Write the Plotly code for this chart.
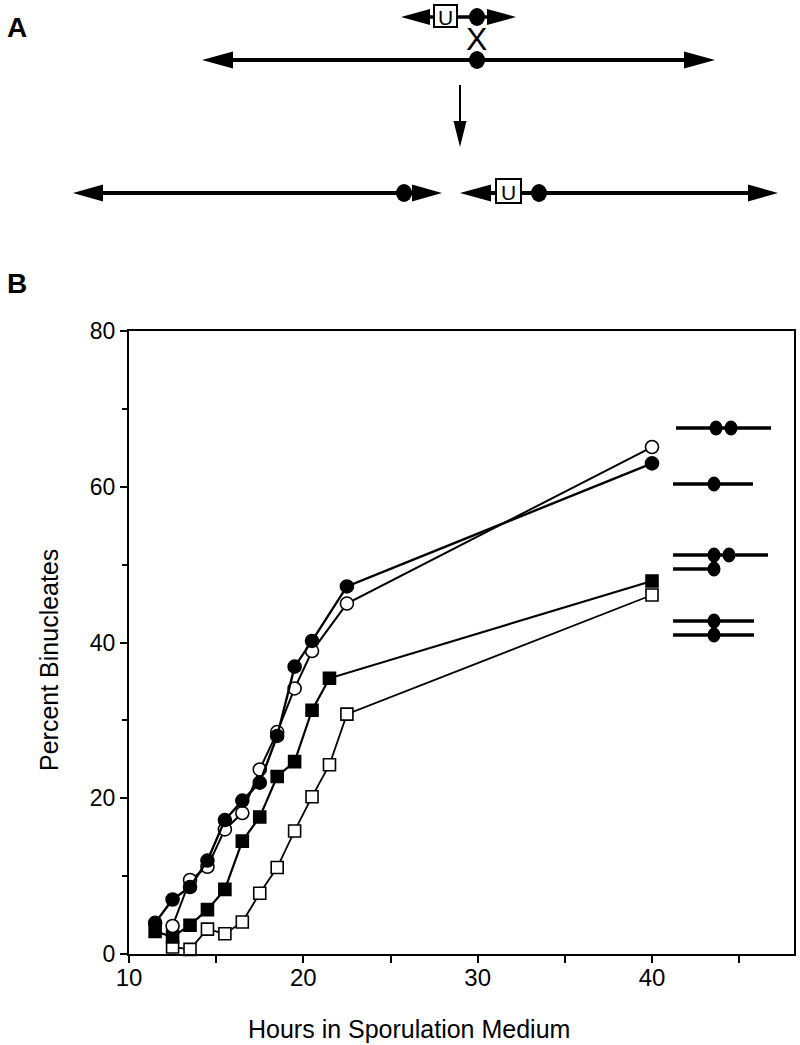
import plotly.graph_objects as go

# ---------------- data (panel B) ----------------
hours_filled_circle = [11.5, 12.5, 13.5, 14.5, 15.5, 16.5, 17.5, 18.5, 19.5, 20.5, 22.5, 40]
pct_filled_circle = [4.0, 7.0, 8.6, 12.0, 17.2, 19.7, 22.0, 28.0, 36.9, 40.2, 47.2, 63.0]

hours_open_circle = [12.5, 13.5, 14.5, 15.5, 16.5, 17.5, 18.5, 19.5, 20.5, 22.5, 40]
pct_open_circle = [3.6, 9.5, 11.2, 16.0, 18.1, 23.7, 28.5, 34.1, 38.9, 45.0, 65.1]

hours_filled_square = [11.5, 12.5, 13.5, 14.5, 15.5, 16.5, 17.5, 18.5, 19.5, 20.5, 21.5, 40]
pct_filled_square = [2.9, 2.2, 3.7, 5.7, 8.3, 14.5, 17.6, 22.8, 24.7, 31.3, 35.4, 47.9]

hours_open_square = [12.5, 13.5, 14.5, 15.5, 16.5, 17.5, 18.5, 19.5, 20.5, 21.5, 22.5, 40]
pct_open_square = [0.9, 0.6, 3.2, 2.6, 4.1, 7.8, 11.1, 15.8, 20.2, 24.3, 30.8, 46.1]

x_ticks = [10, 20, 30, 40]
y_ticks = [0, 20, 40, 60, 80]

FONT = "Liberation Sans, Arial, Helvetica, sans-serif"
W, H = 800, 1045
# plot area in pixels
PX0, PX1, PY0, PY1 = 129, 794, 331, 954

fig = go.Figure()

def add_series(x, y, symbol, fill, lw):
    fig.add_trace(go.Scatter(
        x=x, y=y, mode="lines+markers",
        line=dict(color="black", width=lw),
        marker=dict(symbol=symbol, size=13 if "circle" in symbol else 12,
                    color=fill, line=dict(color="black", width=1.6)),
        showlegend=False, xaxis="x", yaxis="y", cliponaxis=False))

add_series(hours_open_square, pct_open_square, "square", "white", 1.8)
add_series(hours_filled_square, pct_filled_square, "square", "black", 2.2)
add_series(hours_open_circle, pct_open_circle, "circle", "white", 2.0)
add_series(hours_filled_circle, pct_filled_circle, "circle", "black", 2.4)

shapes = []
annots = []

def hline(x0, x1, y, w=3.5):
    shapes.append(dict(type="line", xref="x2", yref="y2", x0=x0, x1=x1, y0=y, y1=y,
                       line=dict(color="black", width=w)))

def dot(cx, cy, rw=7.5, rh=8.5):
    shapes.append(dict(type="circle", xref="x2", yref="y2", x0=cx - rw, x1=cx + rw,
                       y0=cy - rh, y1=cy + rh, fillcolor="black", line=dict(width=0)))

def arrow_left(tip, y, L=30, h=8.5):
    shapes.append(dict(type="path", xref="x2", yref="y2",
                       path=f"M {tip},{y} L {tip+L},{y-h} L {tip+L},{y+h} Z",
                       fillcolor="black", line=dict(width=0)))

def arrow_right(tip, y, L=30, h=8.5):
    shapes.append(dict(type="path", xref="x2", yref="y2",
                       path=f"M {tip},{y} L {tip-L},{y-h} L {tip-L},{y+h} Z",
                       fillcolor="black", line=dict(width=0)))

def ubox(x0, x1, y0, y1):
    shapes.append(dict(type="rect", xref="x2", yref="y2", x0=x0, x1=x1, y0=y0, y1=y1,
                       fillcolor="white", line=dict(color="black", width=2)))
    annots.append(dict(xref="x2", yref="y2", x=(x0 + x1) / 2, y=(y0 + y1) / 2 + 1,
                       text="U", showarrow=False,
                       font=dict(family=FONT, size=21, color="black")))

# ---------------- panel A ----------------
# small chromosome on top
hline(410, 508, 17, 3.5)
arrow_left(401, 17, 29, 8)
arrow_right(516, 17, 29, 8)
ubox(434, 457, 5, 27)
dot(477, 17, 8, 9)
annots.append(dict(xref="x2", yref="y2", x=476, y=39, text="X", showarrow=False,
                   font=dict(family=FONT, size=32, color="black")))
# big chromosome
hline(215, 705, 60, 4)
arrow_left(202, 60, 31, 8.5)
arrow_right(715, 60, 31, 8.5)
dot(477, 60, 8, 9)
# down arrow
shapes.append(dict(type="line", xref="x2", yref="y2", x0=460, x1=460, y0=85, y1=132,
                   line=dict(color="black", width=2)))
shapes.append(dict(type="path", xref="x2", yref="y2",
                   path="M 460,147 L 453.5,121 L 466.5,121 Z",
                   fillcolor="black", line=dict(width=0)))
# bottom left product
hline(85, 430, 193, 4)
arrow_left(73, 193, 30, 8.5)
arrow_right(442, 193, 30, 8.5)
dot(404, 193, 8, 9)
# bottom right product
hline(470, 765, 193, 4)
arrow_left(460, 193, 31, 8.5)
arrow_right(778, 193, 30, 8.5)
ubox(496, 521, 179, 203)
dot(539, 193, 8, 9)

# ---------------- chromosome glyphs right of panel B ----------------
hline(676, 771, 428, 3.5); dot(716, 428, 6.5, 7.5); dot(731, 428, 6.5, 7.5)
hline(673, 753, 484, 3.5); dot(714, 484, 6.5, 7.5)
hline(673, 768, 555, 3.5); dot(714, 555, 6.5, 7.5); dot(729, 555, 6.5, 7.5)
hline(673, 714, 569, 3.5); dot(714, 569, 6.5, 7.5)
hline(673, 754, 621, 3.5); dot(714, 621, 6.5, 7.5)
hline(673, 754, 635, 3.5); dot(714, 635, 6.5, 7.5)

# panel letters
annots.append(dict(xref="x2", yref="y2", x=17, y=27, text="<b>A</b>", showarrow=False,
                   font=dict(family="Liberation Sans Narrow, " + FONT, size=28, color="black")))
annots.append(dict(xref="x2", yref="y2", x=17, y=283, text="<b>B</b>", showarrow=False,
                   font=dict(family="Liberation Sans Narrow, " + FONT, size=28, color="black")))

# axis titles
annots.append(dict(xref="x2", yref="y2", x=409, y=1029, text="Hours in Sporulation Medium",
                   showarrow=False, font=dict(family=FONT, size=25, color="black")))
annots.append(dict(xref="x2", yref="y2", x=49, y=660, text="Percent Binucleates",
                   textangle=-90, showarrow=False, font=dict(family=FONT, size=25, color="black")))

x_per = (40 - 10) / (652 - 129)
x_max = 10 + (PX1 - PX0) * x_per

fig.update_layout(
    width=W, height=H,
    margin=dict(l=0, r=0, t=0, b=0, pad=0, autoexpand=False),
    paper_bgcolor="white", plot_bgcolor="rgba(0,0,0,0)",
    showlegend=False,
    xaxis=dict(domain=[PX0 / W, PX1 / W], range=[10, x_max], anchor="y",
               tickvals=x_ticks, ticks="outside", ticklen=7, tickwidth=1.5,
               tickcolor="black", showline=True, linecolor="black", linewidth=2,
               mirror=True, showgrid=False, zeroline=False, automargin=False,
               ticklabelstandoff=-6,
               tickfont=dict(family=FONT, size=24, color="black"),
               minor=dict(tickvals=[15, 25, 35, 45], ticks="outside", ticklen=7,
                          tickwidth=1.5, tickcolor="black")),
    yaxis=dict(domain=[(H - PY1) / H, (H - PY0) / H], range=[0, 80], anchor="x",
               tickvals=y_ticks, ticks="outside", ticklen=7, tickwidth=1.5,
               tickcolor="black", showline=True, linecolor="black", linewidth=2,
               mirror=True, showgrid=False, zeroline=False, automargin=False,
               tickfont=dict(family=FONT, size=23, color="black"),
               minor=dict(tickvals=[10, 30, 50, 70], ticks="outside", ticklen=5,
                          tickwidth=1.5, tickcolor="black")),
    xaxis2=dict(domain=[0, 1], range=[0, W], anchor="y2", visible=False, fixedrange=True),
    yaxis2=dict(domain=[0, 1], range=[H, 0], anchor="x2", visible=False, fixedrange=True),
    shapes=shapes,
    annotations=annots,
)

fig.write_html("out.html", config={"displayModeBar": False},
               post_script="document.body.style.margin='0px';document.body.style.overflow='hidden';")
